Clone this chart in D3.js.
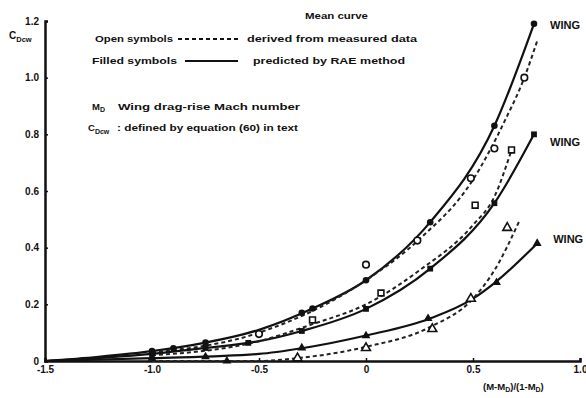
<!DOCTYPE html>
<html><head><meta charset="utf-8">
<script src="https://cdn.jsdelivr.net/npm/d3@7"></script>
<style>body{margin:0;background:#fff}svg text{font-family:"Liberation Sans",Arial,sans-serif;font-weight:bold;fill:#111}</style>
</head><body><svg id="c" width="586" height="398"></svg>
<script>
// X ticks and labels
const xTicks = [-1.5, -1.0, -0.5, 0, 0.5, 1.0];
const xTickLabels = ["-1.5", "-1.0", "-0.5", "0", "0.5", "1.0"];
const yTicks = [0, 0.2, 0.4, 0.6, 0.8, 1.0, 1.2];
const yTickLabels = ["0", "0.2", "0.4", "0.6", "0.8", "1.0", "1.2"];

// Top wing (circles)
const topPredX = [-1.5, -1.25, -1.0, -0.75, -0.5, -0.25, 0, 0.3, 0.6, 0.785];
const topPredY = [0.0, 0.015, 0.035, 0.065, 0.11, 0.185, 0.285, 0.49, 0.83, 1.19];
const topFilledX = [-1.0, -0.9, -0.75, -0.3, -0.25, 0, 0.3, 0.6, 0.785];
const topFilledY = [0.035, 0.045, 0.065, 0.17, 0.185, 0.285, 0.49, 0.83, 1.19];
const topMeasX = [-1.0, -0.5, 0, 0.25, 0.5, 0.65, 0.74, 0.80];
const topMeasY = [0.03, 0.1, 0.285, 0.43, 0.64, 0.85, 1.0, 1.13];
const topOpenX = [-0.5, 0, 0.24, 0.49, 0.60, 0.74];
const topOpenY = [0.095, 0.34, 0.425, 0.645, 0.75, 1.0];

// Middle wing (squares)
const midPredX = [-1.5, -1.0, -0.75, -0.5, -0.3, 0, 0.3, 0.6, 0.785];
const midPredY = [0.0, 0.025, 0.046, 0.07, 0.106, 0.184, 0.326, 0.557, 0.80];
const midFilledX = [-1.0, -0.75, -0.55, -0.3, 0, 0.3, 0.6, 0.785];
const midFilledY = [0.025, 0.046, 0.064, 0.106, 0.184, 0.326, 0.557, 0.80];
const midMeasX = [-1.0, -0.5, -0.25, 0, 0.25, 0.5, 0.6, 0.68];
const midMeasY = [0.02, 0.07, 0.13, 0.2, 0.32, 0.48, 0.58, 0.745];
const midOpenX = [-0.25, 0.07, 0.51, 0.68];
const midOpenY = [0.145, 0.24, 0.55, 0.745];

// Bottom wing (triangles)
const botPredX = [-1.5, -1.0, -0.5, -0.3, 0, 0.3, 0.5, 0.6, 0.8];
const botPredY = [0.0, 0.01, 0.025, 0.045, 0.09, 0.15, 0.22, 0.275, 0.415];
const botFilledX = [-1.0, -0.75, -0.65, -0.3, 0, 0.29, 0.61, 0.8];
const botFilledY = [0.01, 0.015, 0.0, 0.046, 0.089, 0.15, 0.277, 0.415];
const botMeasX = [-1.0, -0.5, -0.32, 0, 0.3, 0.5, 0.6, 0.72];
const botMeasY = [0.0, 0.0, 0.01, 0.05, 0.12, 0.22, 0.32, 0.5];
const botOpenX = [-0.32, 0, 0.31, 0.49, 0.66];
const botOpenY = [0.01, 0.046, 0.113, 0.22, 0.47];

const wingLabels = ["WING", "WING", "WING"];

const svg = d3.select("#c");
const x = d3.scaleLinear().domain([-1.5, 1.0]).range([45, 580]);
const y = d3.scaleLinear().domain([0, 1.2]).range([361, 21]);
const zip = (a, b) => a.map((v, i) => [v, b[i]]);
const line = d3.line().x(d => x(d[0])).y(d => y(d[1])).curve(d3.curveMonotoneX);

// axes
const xAxis = d3.axisBottom(x).tickValues(xTicks).tickSize(-3).tickFormat((d, i) => xTickLabels[i]);
const gx = svg.append("g").attr("transform", `translate(0,${y(0)})`).call(xAxis);
gx.select(".domain").attr("stroke", "#111").attr("stroke-width", 2.5);
gx.selectAll(".tick line").attr("stroke", "#111").attr("stroke-width", 1.5);
gx.selectAll("text").attr("font-size", 10).attr("dy", "0.9em").style("font-family", "Liberation Sans").style("font-weight", "bold");
const yAxis = d3.axisLeft(y).tickValues(yTicks).tickSize(-3).tickFormat((d, i) => yTickLabels[i]);
const gy = svg.append("g").attr("transform", `translate(${x(-1.5)},0)`).call(yAxis);
gy.select(".domain").attr("stroke", "#111").attr("stroke-width", 2.5);
gy.selectAll(".tick line").attr("stroke", "#111").attr("stroke-width", 1.5);
gy.selectAll("text").attr("font-size", 10).attr("x", -6).style("font-family", "Liberation Sans").style("font-weight", "bold");

// curves
function drawSeries(px, py, fx, fy, mx, my, ox, oy, shape) {
  svg.append("path").datum(zip(px, py)).attr("d", line).attr("fill", "none").attr("stroke", "#111").attr("stroke-width", 2.2);
  svg.append("path").datum(zip(mx, my)).attr("d", line).attr("fill", "none").attr("stroke", "#222").attr("stroke-width", 2).attr("stroke-dasharray", "4,3");
  const sym = d3.symbol().type(shape).size(34);
  svg.append("g").selectAll("path").data(zip(fx, fy)).join("path")
    .attr("d", sym).attr("transform", d => `translate(${x(d[0])},${y(d[1])})`).attr("fill", "#111");
  svg.append("g").selectAll("path").data(zip(ox, oy)).join("path")
    .attr("d", sym).attr("transform", d => `translate(${x(d[0])},${y(d[1])})`).attr("fill", "#fff").attr("stroke", "#111").attr("stroke-width", 1.6);
}
drawSeries(topPredX, topPredY, topFilledX, topFilledY, topMeasX, topMeasY, topOpenX, topOpenY, d3.symbolCircle);
drawSeries(midPredX, midPredY, midFilledX, midFilledY, midMeasX, midMeasY, midOpenX, midOpenY, d3.symbolSquare);
drawSeries(botPredX, botPredY, botFilledX, botFilledY, botMeasX, botMeasY, botOpenX, botOpenY, d3.symbolTriangle);

// WING labels at curve ends
const ends = [[topPredX, topPredY], [midPredX, midPredY], [botPredX, botPredY]];
const wingDy = [5, 12, 0];
ends.forEach((e, i) => {
  const n = e[0].length - 1;
  svg.append("text").attr("x", x(e[0][n]) + 16).attr("y", y(e[1][n]) + wingDy[i]).attr("font-size", 10)
    .attr("textLength", 30).attr("lengthAdjust", "spacingAndGlyphs").text(wingLabels[i]);
});

// y label
const yl = svg.append("text").attr("x", 9).attr("y", 39).attr("font-size", 10);
yl.append("tspan").text("C");
yl.append("tspan").attr("font-size", 7.5).attr("dy", 3).text("Dcw");

// legend
function lt(x0, y0, w, s) {
  return svg.append("text").attr("x", x0).attr("y", y0).attr("font-size", 9.5)
    .attr("textLength", w).attr("lengthAdjust", "spacingAndGlyphs").text(s);
}
lt(305, 19, 63, "Mean curve");
lt(95, 42, 78, "Open symbols");
svg.append("line").attr("x1", 178).attr("x2", 238).attr("y1", 39).attr("y2", 39).attr("stroke", "#111").attr("stroke-width", 1.8).attr("stroke-dasharray", "4,3");
lt(247, 42, 170, "derived from measured data");
lt(92, 64, 85, "Filled symbols");
svg.append("line").attr("x1", 185).attr("x2", 238).attr("y1", 61).attr("y2", 61).attr("stroke", "#111").attr("stroke-width", 1.8);
lt(253, 64, 152, "predicted by RAE method");
const t1 = svg.append("text").attr("x", 92).attr("y", 110).attr("font-size", 9.5);
t1.append("tspan").text("M");
t1.append("tspan").attr("font-size", 7).attr("dy", 2).text("D");
t1.append("tspan").attr("dy", -2).attr("x", 118).attr("textLength", 182).attr("lengthAdjust", "spacingAndGlyphs").text("Wing drag-rise  Mach number");
const t2 = svg.append("text").attr("x", 88).attr("y", 131).attr("font-size", 9.5);
t2.append("tspan").text("C");
t2.append("tspan").attr("font-size", 7).attr("dy", 3).text("Dcw");
t2.append("tspan").attr("dy", -3).attr("x", 117).attr("textLength", 181).attr("lengthAdjust", "spacingAndGlyphs").text(": defined by equation  (60)  in text");

// x label
const xl = svg.append("text").attr("x", 483).attr("y", 390).attr("font-size", 9.5);
xl.append("tspan").text("(M-M");
xl.append("tspan").attr("font-size", 7).attr("dy", 2).text("D");
xl.append("tspan").attr("dy", -2).text(")/(1-M");
xl.append("tspan").attr("font-size", 7).attr("dy", 2).text("D");
xl.append("tspan").attr("dy", -2).text(")");
</script></body></html>
